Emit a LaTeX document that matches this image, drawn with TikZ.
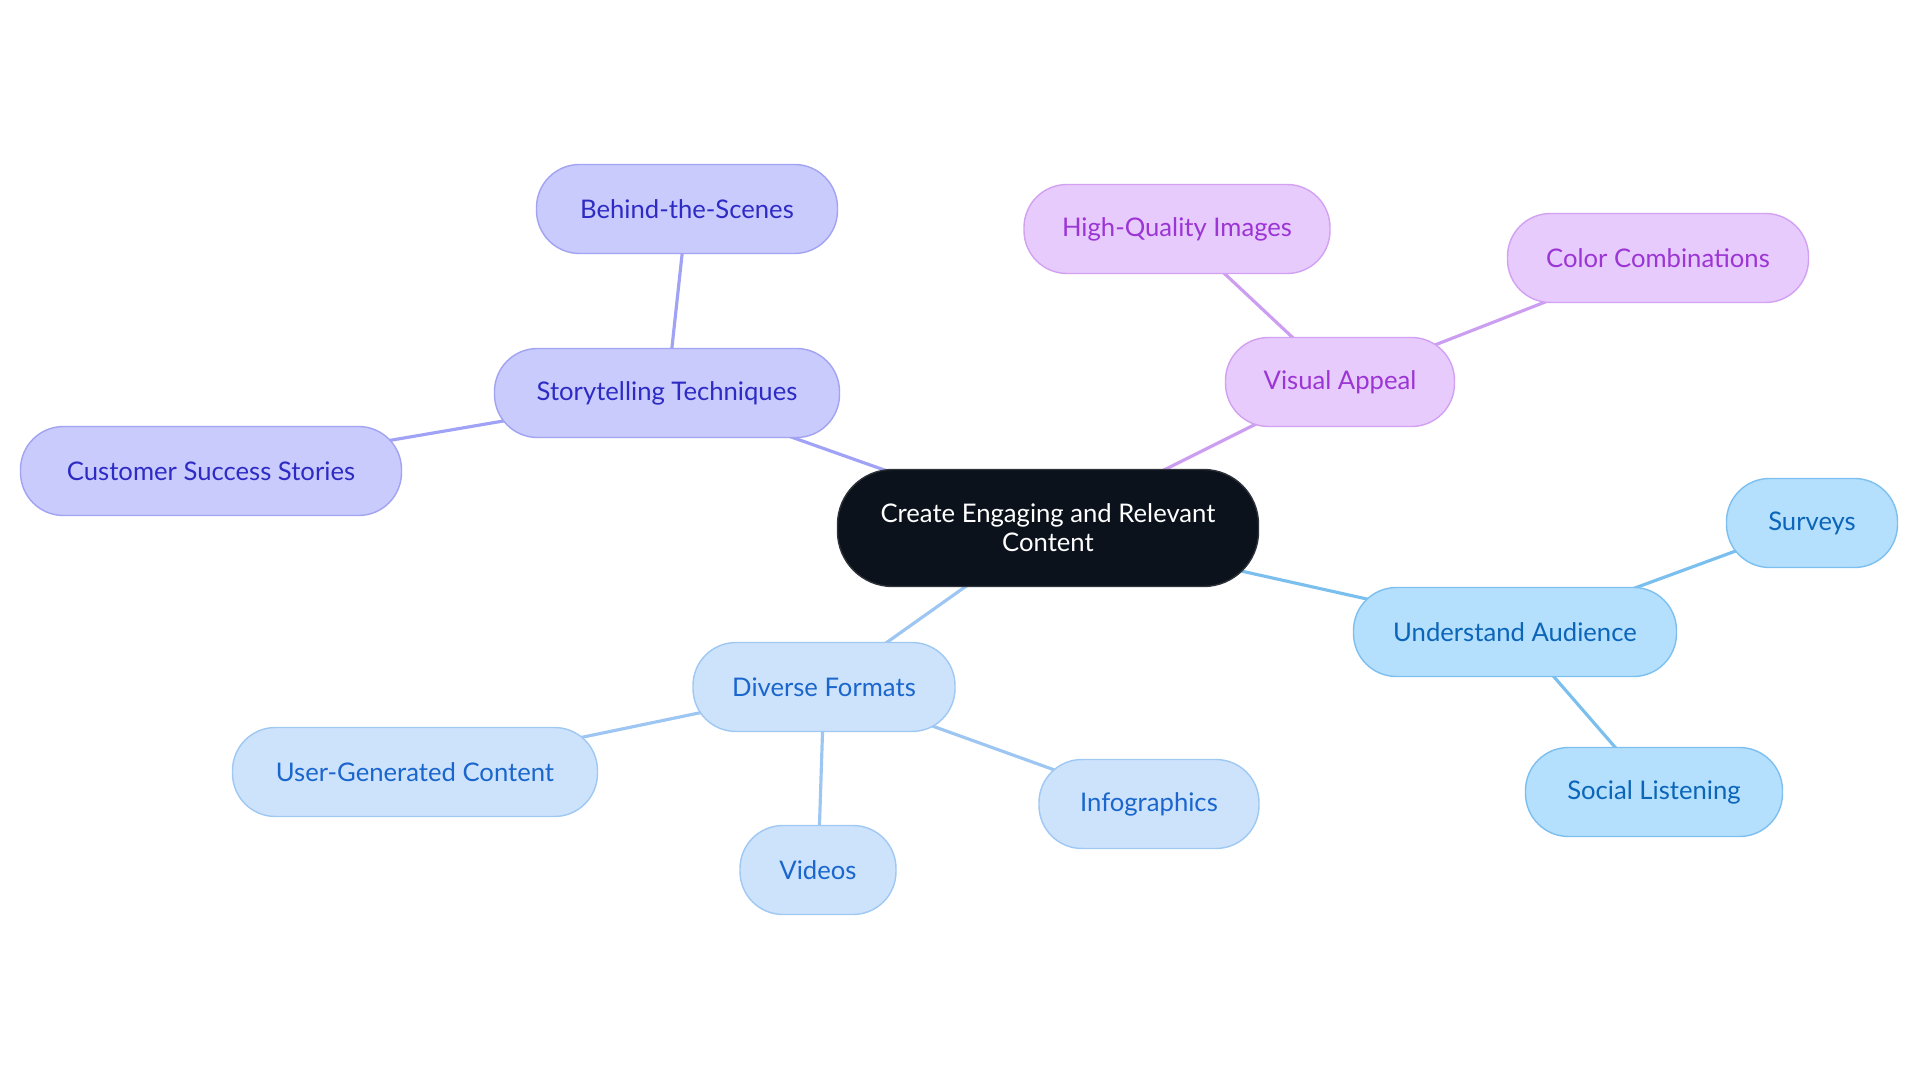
\documentclass[tikz,border=0pt]{standalone}
\usepackage{fontspec}
\setmainfont{Lato}
\usepackage{xcolor}
\usetikzlibrary{positioning}
\definecolor{centerfill}{HTML}{0C121C}
\definecolor{centerdraw}{HTML}{2E323A}
\definecolor{storyfill}{HTML}{C9CBFD}
\definecolor{storydraw}{HTML}{A2A3F2}
\definecolor{storytext}{HTML}{2E2BC4}
\definecolor{storyline}{HTML}{A0A2F5}
\definecolor{visualfill}{HTML}{E8CBFD}
\definecolor{visualdraw}{HTML}{D2A1F2}
\definecolor{visualtext}{HTML}{9B35D4}
\definecolor{visualline}{HTML}{CC9EF2}
\definecolor{audiencefill}{HTML}{B4DFFD}
\definecolor{audiencedraw}{HTML}{7DC0F0}
\definecolor{audiencetext}{HTML}{0B65B8}
\definecolor{audienceline}{HTML}{7BBFEF}
\definecolor{formatfill}{HTML}{CDE3FC}
\definecolor{formatdraw}{HTML}{9FC8F3}
\definecolor{formattext}{HTML}{1A66CC}
\definecolor{formatline}{HTML}{9DC6F2}
\pgfdeclarelayer{background}
\pgfsetlayers{background,main}
\tikzset{
  mapbox/.style={rectangle, rounded corners=8.6mm, minimum height=17.8mm,
    line width=0.8pt, font=\fontsize{14.6}{17}\selectfont, align=center},
  storybox/.style={mapbox, fill=storyfill, draw=storydraw, text=storytext},
  visualbox/.style={mapbox, fill=visualfill, draw=visualdraw, text=visualtext},
  audiencebox/.style={mapbox, fill=audiencefill, draw=audiencedraw, text=audiencetext},
  formatbox/.style={mapbox, fill=formatfill, draw=formatdraw, text=formattext},
  branch/.style={line width=1.8pt}
}
\begin{document}
\begin{tikzpicture}[x=0.2mm,y=-0.2mm]
  \useasboundingbox (0,0) rectangle (1920,1083);
  % centre
  \node[rectangle, rounded corners=11mm, minimum width=84.2mm, minimum height=23.4mm,
        fill=centerfill, draw=centerdraw, line width=0.8pt, text=white,
        font=\fontsize{14.6}{16.5}\selectfont, align=center] (main) at (1048,528)
        {Create Engaging and Relevant\\Content};
  % storytelling
  \node[storybox, minimum width=69mm] (story) at (667,393) {Storytelling Techniques};
  \node[storybox, minimum width=60.2mm] (behind) at (687,209) {Behind-the-Scenes};
  \node[storybox, minimum width=76.2mm] (customer) at (211,471) {Customer Success Stories};
  % visual
  \node[visualbox, minimum width=45.8mm] (visual) at (1340,382) {Visual Appeal};
  \node[visualbox, minimum width=61.2mm] (images) at (1177,229) {High-Quality Images};
  \node[visualbox, minimum width=60.2mm] (colors) at (1658,258) {Color Combinations};
  % audience
  \node[audiencebox, minimum width=64.6mm] (audience) at (1515,632) {Understand Audience};
  \node[audiencebox, minimum width=34.2mm] (surveys) at (1812,523) {Surveys};
  \node[audiencebox, minimum width=51.4mm] (listening) at (1654,792) {Social Listening};
  % formats
  \node[formatbox, minimum width=52.4mm] (formats) at (824,687) {Diverse Formats};
  \node[formatbox, minimum width=73mm] (ugc) at (415,772) {User-Generated Content};
  \node[formatbox, minimum width=31.2mm] (videos) at (818,870) {Videos};
  \node[formatbox, minimum width=44mm] (infographics) at (1149,804) {Infographics};

  \begin{pgfonlayer}{background}
    \draw[branch, storyline] (main.center) -- (story.center);
    \draw[branch, storyline] (story.center) -- (behind.center);
    \draw[branch, storyline] (story.center) -- (customer.center);
    \draw[branch, visualline] (main.center) -- (visual.center);
    \draw[branch, visualline] (visual.center) -- (images.center);
    \draw[branch, visualline] (visual.center) -- (colors.center);
    \draw[branch, audienceline] (main.center) -- (audience.center);
    \draw[branch, audienceline] (audience.center) -- (surveys.center);
    \draw[branch, audienceline] (audience.center) -- (listening.center);
    \draw[branch, formatline] (main.center) -- (formats.center);
    \draw[branch, formatline] (formats.center) -- (ugc.center);
    \draw[branch, formatline] (formats.center) -- (videos.center);
    \draw[branch, formatline] (formats.center) -- (infographics.center);
  \end{pgfonlayer}
\end{tikzpicture}
\end{document}
